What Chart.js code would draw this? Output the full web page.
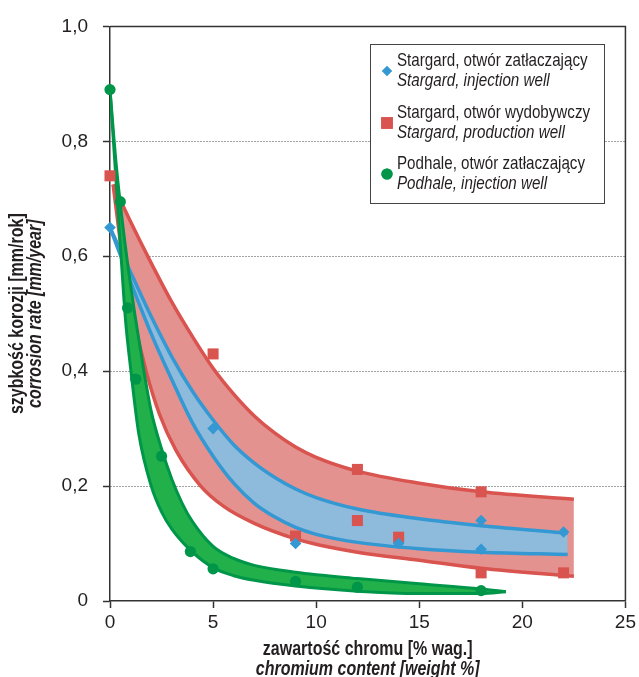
<!DOCTYPE html>
<html>
<head>
<meta charset="utf-8">
<script src="https://cdn.jsdelivr.net/npm/chart.js@4"></script>
<style>
html, body { margin: 0; padding: 0; background: #fff; }
#wrap { width: 639px; height: 677px; position: relative; }
</style>
</head>
<body>
<div id="wrap"><canvas id="wykres"></canvas></div>
<script>
// punkty pomiarowe
const stargardZatlX = [0, 5, 9, 14, 18, 18, 22];
const stargardZatlY = [0.65, 0.30, 0.10, 0.10, 0.14, 0.09, 0.12];
const stargardWydX = [0, 5, 9, 12, 12, 14, 18, 18, 22];
const stargardWydY = [0.74, 0.43, 0.113, 0.229, 0.14, 0.111, 0.19, 0.049, 0.049];
const podhaleX = [0, 0.5, 0.85, 1.25, 2.5, 3.9, 5, 9, 12, 18];
const podhaleY = [0.89, 0.695, 0.51, 0.386, 0.252, 0.086, 0.056, 0.034, 0.024, 0.018];

// krzywe ograniczajace pasma
const czerwonaGoraX = [0.15, 1, 2, 3, 4, 5, 6, 7, 8, 9, 10, 12, 15, 18, 22.5];
const czerwonaGoraY = [0.725, 0.66, 0.588, 0.52, 0.46, 0.405, 0.36, 0.322, 0.292, 0.268, 0.25, 0.226, 0.205, 0.19, 0.177];
const czerwonaDolX = [0.15, 0.6, 1.1, 1.75, 2.4, 3.2, 4.4, 5.5, 7, 9, 10.2, 12, 15, 18, 22.5];
const czerwonaDolY = [0.725, 0.6, 0.5, 0.4, 0.325, 0.262, 0.2, 0.165, 0.135, 0.108, 0.097, 0.085, 0.071, 0.057, 0.043];
const niebieskaGoraX = [0, 1, 2, 3, 4, 5, 6, 7, 8, 9, 10, 12, 15, 18, 22.2];
const niebieskaGoraY = [0.65, 0.572, 0.495, 0.425, 0.365, 0.315, 0.272, 0.24, 0.215, 0.195, 0.18, 0.16, 0.143, 0.131, 0.118];
const niebieskaDolX = [0, 1, 2, 3, 4, 5, 6, 7, 8, 9, 10, 12, 15, 18, 22.2];
const niebieskaDolY = [0.65, 0.555, 0.465, 0.385, 0.31, 0.252, 0.205, 0.17, 0.146, 0.128, 0.116, 0.102, 0.091, 0.085, 0.081];
const zielonaGoraX = [0, 0.3, 0.6, 0.9, 1.2, 1.6, 2, 2.5, 3, 3.5, 4, 5, 6, 7, 9, 12, 15, 18, 19.2];
const zielonaGoraY = [0.89, 0.76, 0.66, 0.575, 0.5, 0.41, 0.33, 0.265, 0.212, 0.17, 0.138, 0.095, 0.074, 0.062, 0.05, 0.039, 0.03, 0.021, 0.016];
const zielonaDolX = [0, 0.25, 0.5, 0.75, 1, 1.4, 2, 2.5, 3, 4, 5, 6, 7, 9, 12, 15, 18, 19.2];
const zielonaDolY = [0.89, 0.755, 0.62, 0.49, 0.405, 0.29, 0.2, 0.155, 0.125, 0.085, 0.058, 0.044, 0.036, 0.026, 0.017, 0.013, 0.013, 0.016];

const xTicki = [0, 5, 10, 15, 20, 25];
const yTicki = [0, 0.2, 0.4, 0.6, 0.8, 1.0];

const CZ = '#d9534f', CZ_FILL = '#e4928f';
const NB = '#3498d2', NB_FILL = '#8ebadc';
const ZL = '#00964a', ZL_FILL = '#22b04b';
const TXT = '#231f20';
const FONT = "'Liberation Sans', Arial, sans-serif";
const WASKO = 0.82; // zwezenie tekstu (Arial Narrow)

function pary(xs, ys){
    return xs.map((x, i) => ({x: x, y: ys[i]}));
}

function krzywa(xs, ys, kolor, kolejnosc, wypelnienie, grubosc){
    return {
        data: pary(xs, ys),
        borderColor: kolor,
        borderWidth: grubosc || 3.5,
        pointRadius: 0,
        cubicInterpolationMode: 'monotone',
        fill: wypelnienie ? {target: '+1', above: wypelnienie, below: wypelnienie} : false,
        order: kolejnosc
    };
}

function punkty(xs, ys, kolor, styl, r, kolejnosc){
    return {
        data: pary(xs, ys),
        showLine: false,
        pointStyle: styl,
        pointRadius: r,
        pointHoverRadius: r,
        pointBackgroundColor: kolor,
        pointBorderWidth: 0,
        borderColor: kolor,
        clip: false,
        order: kolejnosc
    };
}

function napis(c, t, x, y, font, kat){
    c.save();
    c.font = font;
    c.translate(x, y);
    if (kat) c.rotate(kat);
    c.scale(WASKO, 1);
    c.fillText(t, 0, 0);
    c.restore();
}

// ramka gora/prawo + opisy osi + legenda
const dodatki = {
    id: 'dodatki',
    afterDraw(chart){
        const c = chart.ctx, a = chart.chartArea;
        c.save();
        c.strokeStyle = '#333';
        c.lineWidth = 1.5;
        c.beginPath();
        c.moveTo(a.left, a.top);
        c.lineTo(a.right, a.top);
        c.lineTo(a.right, a.bottom);
        c.stroke();

        c.fillStyle = TXT;
        c.textAlign = 'center';
        c.textBaseline = 'alphabetic';
        const sx = (a.left + a.right) / 2;
        napis(c, 'zawartość chromu [% wag.]', sx, 655, 'bold 19.5px ' + FONT);
        napis(c, 'chromium content [weight %]', sx, 675, 'italic bold 19.5px ' + FONT);

        const sy = (a.top + a.bottom) / 2;
        napis(c, 'szybkość korozji [mm/rok]', 23, sy, 'bold 19.5px ' + FONT, -Math.PI / 2);
        napis(c, 'corrosion rate [mm/year]', 40.5, sy, 'italic bold 19.5px ' + FONT, -Math.PI / 2);

        // legenda
        c.fillStyle = '#fff';
        c.fillRect(370, 44, 234, 159);
        c.strokeStyle = '#444';
        c.lineWidth = 1;
        c.strokeRect(370.5, 44.5, 234, 159);

        const wpisy = [
            ['Stargard, otwór zatłaczający', 'Stargard, injection well', 71, 'rectRot', NB, 5],
            ['Stargard, otwór wydobywczy', 'Stargard, production well', 123, 'rect', CZ, 8.2],
            ['Podhale, otwór zatłaczający', 'Podhale, injection well', 174, 'circle', ZL, 5.6]
        ];
        c.textAlign = 'left';
        wpisy.forEach(function(w){
            c.fillStyle = w[4];
            c.beginPath();
            Chart.helpers.drawPoint(c, {pointStyle: w[3], radius: w[5], borderWidth: 0}, 387, w[2]);
            c.fill();
            c.fillStyle = TXT;
            napis(c, w[0], 397, w[2] - 5, '18.5px ' + FONT);
            napis(c, w[1], 397, w[2] + 15, 'italic 18.5px ' + FONT);
        });
        c.restore();
    }
};

new Chart(document.getElementById('wykres'), {
    type: 'line',
    data: {
        datasets: [
            krzywa(czerwonaDolX, czerwonaDolY, CZ, 10, CZ_FILL),
            krzywa(czerwonaGoraX, czerwonaGoraY, CZ, 9),
            krzywa(niebieskaDolX, niebieskaDolY, NB, 8, NB_FILL),
            krzywa(niebieskaGoraX, niebieskaGoraY, NB, 7),
            krzywa(zielonaDolX, zielonaDolY, ZL, 6, ZL_FILL, 3),
            krzywa(zielonaGoraX, zielonaGoraY, ZL, 5, null, 3),
            punkty(stargardWydX, stargardWydY, CZ, 'rect', 7.8, 4),
            punkty(stargardZatlX, stargardZatlY, NB, 'rectRot', 5.8, 3),
            punkty(podhaleX, podhaleY, ZL, 'circle', 5.6, 2)
        ]
    },
    options: {
        responsive: true,
        maintainAspectRatio: false,
        animation: false,
        layout: { padding: { top: 21, right: 11, left: 0, bottom: 0 } },
        plugins: {
            legend: { display: false },
            tooltip: { enabled: false }
        },
        scales: {
            x: {
                type: 'linear',
                min: 0, max: 25,
                afterBuildTicks: s => { s.ticks = xTicki.map(v => ({value: v})); },
                ticks: { color: TXT, font: { family: FONT, size: 19 }, padding: 3, maxRotation: 0 },
                grid: { drawOnChartArea: false, tickLength: 7, tickColor: '#333', tickWidth: 1.5 },
                border: { color: '#333', width: 1.5 },
                afterFit: s => { s.height = 76; }
            },
            y: {
                min: 0, max: 1,
                afterBuildTicks: s => { s.ticks = yTicki.map(v => ({value: v})); },
                ticks: {
                    color: TXT, font: { family: FONT, size: 19 }, padding: 15,
                    callback: v => v === 0 ? '0' : v.toFixed(1).replace('.', ',')
                },
                grid: {
                    color: ctx => (ctx.tick && ctx.tick.value > 0.01 && ctx.tick.value < 0.99) ? '#444' : 'rgba(0,0,0,0)',
                    lineWidth: 1, tickLength: 7, tickColor: '#333', tickWidth: 1.5
                },
                border: { color: '#333', width: 1.5, dash: [1, 2] },
                afterFit: s => { s.width = 110; }
            }
        }
    },
    plugins: [dodatki]
});
</script>
</body>
</html>
